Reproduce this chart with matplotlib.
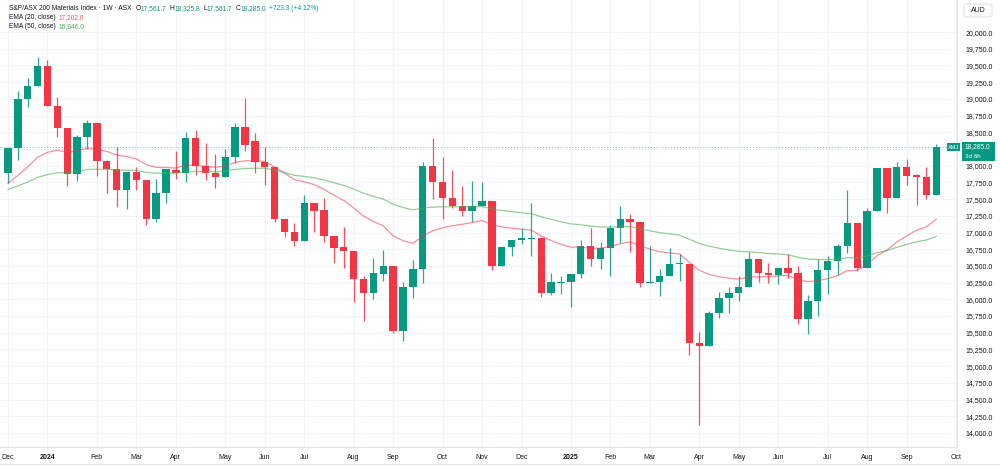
import matplotlib
matplotlib.use('Agg')
import matplotlib.pyplot as plt
from matplotlib.patches import Rectangle, FancyBboxPatch
import numpy as np
import pandas as pd

plt.rcParams['font.family'] = ['Liberation Sans', 'DejaVu Sans']

## Weekly OHLC, S&P/ASX 200 Materials (XMJ), first bar = week of 4 Dec 2023
first_week = '2023-12-04'
opens = [17894, 18259, 18992, 19192, 19496, 18897, 18558, 17870, 18424, 18643,
         18074, 17944, 17635, 17909, 17784, 17196, 17595, 17934, 17884, 18408,
         17999, 17884, 17824, 18134, 18583, 18373, 18059, 17974, 17204, 17011,
         16876, 17435, 17335, 16946, 16776, 16726, 16298, 16088, 16377, 16497,
         15524, 16188, 16447, 17999, 17759, 17510, 17395, 17325, 17395, 17475,
         16502, 16786, 16886, 16905, 16911, 16088, 16250, 16263, 16377, 16801,
         16597, 16771, 17061, 17196, 17151, 16238, 16263, 16347, 16530, 16527,
         15349, 15304, 15798, 16013, 16098, 16178, 16597, 16397, 16362, 16472,
         16397, 15699, 15978, 16437, 16572, 16796, 17136, 16462, 17325, 17959,
         17520, 17984, 17854, 17834, 17561.7]
highs = [18270, 19121, 19316, 19621, 19581, 19022, 18558, 18458, 18683, 18643,
         18090, 18274, 17909, 17984, 17784, 17795, 17944, 18218, 18508, 18533,
         18343, 18169, 18253, 18643, 19007, 18493, 18274, 17974, 17204, 17140,
         17560, 17435, 17522, 16946, 17086, 16726, 16352, 16612, 16737, 16497,
         16263, 16587, 18049, 18408, 18124, 17934, 17695, 17770, 17750, 17475,
         16786, 16886, 17071, 17445, 16911, 16388, 16352, 16380, 16886, 17061,
         16851, 17111, 17400, 17271, 17151, 16801, 16447, 16761, 16677, 16527,
         15514, 15828, 16113, 16178, 16347, 16712, 16597, 16537, 16472, 16672,
         16502, 16063, 16597, 16647, 16821, 17635, 17136, 17361, 17959, 17959,
         18049, 18099, 17880, 17984, 18325.8]
lows = [17735, 18084, 18882, 19192, 18897, 18433, 17695, 17770, 18244, 17844,
        17585, 17385, 17345, 17635, 17111, 17161, 17445, 17795, 17759, 17859,
        17784, 17669, 17824, 18044, 18218, 17884, 17710, 17161, 16930, 16798,
        16876, 17005, 16861, 16537, 16462, 15963, 15674, 15998, 16277, 15489,
        15379, 16013, 16238, 17496, 17196, 17361, 17251, 17151, 17395, 16437,
        16502, 16651, 16826, 16651, 16038, 16060, 16073, 15888, 16313, 16497,
        16452, 16347, 16836, 16701, 16188, 16238, 16048, 16347, 16277, 15165,
        14117, 15304, 15723, 15798, 15978, 16178, 16263, 16248, 16223, 16313,
        15629, 15479, 15749, 16078, 16362, 16687, 16427, 16462, 17325, 17296,
        17520, 17710, 17410, 17496, 17561.7]
closes = [18259, 18992, 19192, 19496, 18897, 18558, 17870, 18424, 18643, 18074,
          17944, 17635, 17909, 17784, 17196, 17595, 17944, 17884, 18408, 17999,
          17884, 17824, 18134, 18583, 18308, 18059, 17974, 17204, 17011, 16876,
          17435, 17325, 16946, 16761, 16726, 16298, 16088, 16388, 16497, 15524,
          16188, 16447, 17999, 17759, 17510, 17395, 17325, 17395, 17475, 16502,
          16786, 16886, 16911, 16915, 16088, 16253, 16263, 16377, 16801, 16597,
          16766, 17061, 17196, 17151, 16238, 16263, 16347, 16522, 16537, 15349,
          15304, 15798, 16013, 16098, 16178, 16597, 16397, 16362, 16472, 16397,
          15699, 15978, 16437, 16572, 16796, 17136, 16462, 17325, 17959, 17520,
          17984, 17849, 17834, 17561.7, 18285.0]

# EMA values on the first bar and legend values shown
ema20_start = 17735.0
ema50_start = 17645.0
ema20_label = 17202.0
ema50_label = 16946.0

price_ticks = list(range(14000, 20001, 250))

GREEN = '#089981'
RED = '#F23645'
TXT = '#131722'
GRID = '#f0f3fa'
HDR = 4.8   # header font size


def ema(values, start, span):
    k = 2.0 / (span + 1)
    out = [start]
    for v in values[1:]:
        out.append(out[-1] + k * (v - out[-1]))
    return out


o = np.array(opens); h = np.array(highs); l = np.array(lows); c = np.array(closes)
x = np.arange(len(c))
ema20 = ema(closes, ema20_start, 20)
ema50 = ema(closes, ema50_start, 50)

fig = plt.figure(figsize=(10, 4.69), dpi=100)
ax = fig.add_axes([0.0, 22 / 469, 0.957, 447 / 469])

# grid
for p in price_ticks:
    ax.axhline(p, color=GRID, lw=0.8, zorder=0)

# month ticks from weekly dates (extend a few weeks past last bar)
dates = pd.date_range(first_week, periods=len(c) + 3, freq='W-MON')
tick_pos, tick_lab = [], []
for i, d in enumerate(dates):
    if i == 0 or d.month != dates[i - 1].month:
        tick_pos.append(i)
        tick_lab.append(str(d.year) if d.month == 1 else d.strftime('%b'))
for tp in tick_pos:
    ax.axvline(tp, color=GRID, lw=0.8, zorder=0)

# candles
up = c >= o
cols = np.where(up, GREEN, RED)
ax.vlines(x, l, h, colors=cols, lw=0.9, alpha=0.85, zorder=2)
body_lo = np.minimum(o, c)
body_h = np.maximum(np.abs(c - o), 14)
ax.bar(x, body_h, bottom=body_lo, width=0.74, color=cols, linewidth=0, zorder=3)

# EMAs
ax.plot(x, ema20, color=RED, lw=0.9, alpha=0.55, zorder=4)
ax.plot(x, ema50, color='#4CAF50', lw=0.9, alpha=0.6, zorder=4)

# last price line
ax.axhline(closes[-1], color=GREEN, lw=0.7, ls=(0, (1, 2)), alpha=0.6, zorder=1)

ax.set_xlim(-0.81, 96.1)
ax.set_ylim(13790, 20480)
ax.yaxis.tick_right()
ax.set_yticks(price_ticks)
# the tick label hidden under the last-price tag is left blank
ax.set_yticklabels(['' if abs(p - closes[-1]) < 125 else f'{p:,.1f}' for p in price_ticks])
ax.set_xticks(tick_pos)
ax.set_xticklabels(tick_lab)
for lab in ax.get_xticklabels():
    if lab.get_text().isdigit():
        lab.set_fontweight('bold')
ax.tick_params(axis='y', length=0, pad=6, labelsize=5, labelcolor=TXT)
ax.tick_params(axis='x', length=0, pad=5, labelsize=5, labelcolor=TXT)
for s in ['top', 'left']:
    ax.spines[s].set_visible(False)
for s in ['right', 'bottom']:
    ax.spines[s].set_color('#e0e3eb')
    ax.spines[s].set_linewidth(0.8)

W, H = 1000.0, 469.0

# bottom border of the time scale
fig.add_artist(plt.Line2D([0, 1], [1 - 464 / H, 1 - 464 / H], transform=fig.transFigure,
                          color='#e0e3eb', lw=0.8))

# right-side price tag
fig.patches.append(Rectangle((947 / W, 1 - 151 / H), 13 / W, 8 / H, transform=fig.transFigure,
                             facecolor=GREEN, edgecolor='none'))
fig.text(953.5 / W, 1 - 147.2 / H, 'XMJ', color='white', fontsize=4.0, ha='center', va='center')
fig.patches.append(Rectangle((962 / W, 1 - 160.5 / H), 33 / W, 18.5 / H, transform=fig.transFigure,
                             facecolor=GREEN, edgecolor='none'))
fig.text(965 / W, 1 - 146.3 / H, f'{closes[-1]:,.1f}', color='white', fontsize=4.8,
         ha='left', va='center')
fig.text(965 / W, 1 - 156.0 / H, '3d 6h', color='white', fontsize=4.5, ha='left', va='center')

# currency box
fig.patches.append(FancyBboxPatch((964 / W, 1 - 17 / H), 28 / W, 13 / H, transform=fig.transFigure,
                                  boxstyle='round,pad=0,rounding_size=0.004',
                                  facecolor='white', edgecolor='#e0e3eb', lw=0.8))
fig.text(978 / W, 1 - 10.5 / H, 'AUD', color=TXT, fontsize=5, ha='center', va='center')

# header rows
fig.canvas.draw()
rend = fig.canvas.get_renderer()


def put_row(parts, x0, y0):
    xx = x0
    for s, col, gap in parts:
        t = fig.text(xx / W, 1 - y0 / H, s, color=col, fontsize=HDR, ha='left', va='center')
        bb = t.get_window_extent(renderer=rend)
        xx += bb.width + gap


chg = closes[-1] - closes[-2]
pct = chg / closes[-2] * 100
put_row([('S&P/ASX 200 Materials Index · 1W · ASX', TXT, 4),
         ('O', TXT, 0.2), (f'{opens[-1]:,.1f}', GREEN, 3),
         ('H', TXT, 0.2), (f'{highs[-1]:,.1f}', GREEN, 3),
         ('L', TXT, 0.2), (f'{lows[-1]:,.1f}', GREEN, 3),
         ('C', TXT, 0.2), (f'{closes[-1]:,.1f}', GREEN, 3),
         (f'+{chg:,.1f} (+{pct:.2f}%)', GREEN, 0)], 9, 8.5)
put_row([('EMA (20, close)', TXT, 3), (f'{ema20_label:,.1f}', '#F7525F', 0)], 9, 17.5)
put_row([('EMA (50, close)', TXT, 3), (f'{ema50_label:,.1f}', '#4CAF50', 0)], 9, 26.5)

fig.savefig('out.png', dpi=100, facecolor='white')
